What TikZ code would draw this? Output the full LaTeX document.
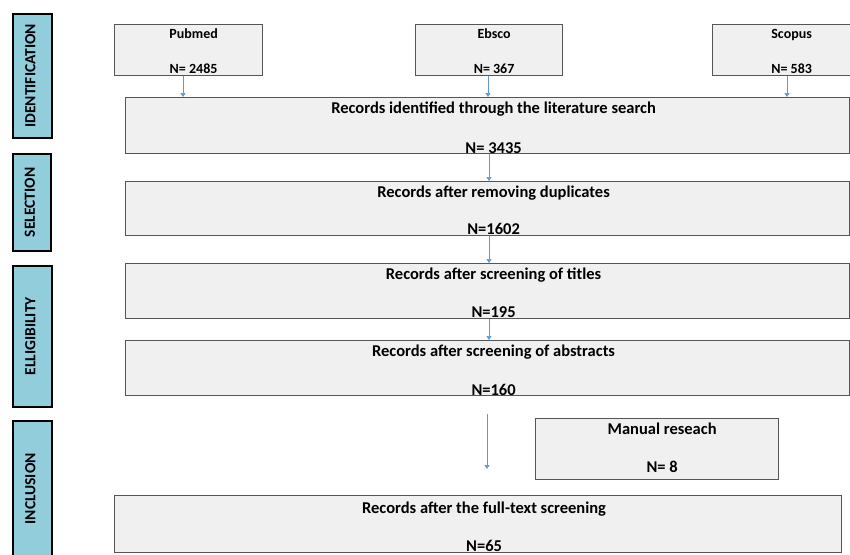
\documentclass[tikz,border=0pt]{standalone}
\usepackage{fontspec}
\setmainfont{Carlito}
\usetikzlibrary{positioning}
\usetikzlibrary{arrows.meta}

\definecolor{boxgray}{HTML}{F0F0F0}
\definecolor{boxline}{HTML}{555555}
\definecolor{phaseblue}{HTML}{92CDDC}
\definecolor{arrowblue}{HTML}{5B9BD5}

\tikzset{
    recbox/.style={draw=boxline, fill=boxgray, line width=1.2pt, anchor=north west, inner sep=0pt},
    phase/.style={draw=black, fill=phaseblue, line width=1.6pt, anchor=north west, inner sep=0pt},
    phasetext/.style={rotate=90, font=\bfseries\fontsize{15.5}{18}\selectfont},
    txt/.style={font=\bfseries\fontsize{16.5}{19}\selectfont, inner sep=0pt, anchor=base},
    srctxt/.style={font=\bfseries\fontsize{14}{17}\selectfont, inner sep=0pt, anchor=base},
    flow/.style={draw=arrowblue, line width=0.6pt, -{Triangle[length=4pt, width=5pt]}}
}

\begin{document}
\begin{tikzpicture}[x=1pt, y=-1pt]
        \useasboundingbox (0,0) rectangle (850,554);

        % phases
        \node[phase, minimum width=39pt, minimum height=124pt] (p_ident) at (12,13) {};
        \node[phasetext] (p_ident_t) at ([xshift=-2pt]p_ident.center) {IDENTIFICATION};
        \node[phase, minimum width=38pt, minimum height=97pt] (p_select) at (12,153) {};
        \node[phasetext] (p_select_t) at ([xshift=-2pt]p_select.center) {SELECTION};
        \node[phase, minimum width=39pt, minimum height=141pt] (p_elig) at (12,265) {};
        \node[phasetext] (p_elig_t) at ([xshift=-2pt]p_elig.center) {ELLIGIBILITY};
        \node[phase, minimum width=39pt, minimum height=140pt] (p_incl) at (12,420) {};
        \node[phasetext] (p_incl_t) at ([xshift=-2pt,yshift=2pt]p_incl.center) {INCLUSION};

        % databases
        \node[recbox, minimum width=148pt, minimum height=51pt] (pubmed) at (114,24) {};
        \node[srctxt] (pubmed_t) at ([xshift=5pt,yshift=-14pt]pubmed.north) {Pubmed};
        \node[srctxt] (pubmed_n) at ([xshift=5pt,yshift=2.5pt]pubmed.south) {N= 2485};
        \node[recbox, minimum width=147pt, minimum height=51pt] (ebsco) at (415,24) {};
        \node[srctxt] (ebsco_t) at ([xshift=5pt,yshift=-14pt]ebsco.north) {Ebsco};
        \node[srctxt] (ebsco_n) at ([xshift=5pt,yshift=2.5pt]ebsco.south) {N= 367};
        \node[recbox, minimum width=148pt, minimum height=51pt] (scopus) at (712,24) {};
        \node[srctxt] (scopus_t) at ([xshift=5pt,yshift=-14pt]scopus.north) {Scopus};
        \node[srctxt] (scopus_n) at ([xshift=5pt,yshift=2.5pt]scopus.south) {N= 583};

        % records
        \node[recbox, minimum width=724pt, minimum height=56pt] (identified) at (125,97) {};
        \node[txt] (identified_t) at ([xshift=6pt,yshift=-16pt]identified.north) {Records identified through the literature search};
        \node[txt] (identified_n) at ([xshift=6pt,yshift=0.5pt]identified.south) {N= 3435};
        \node[recbox, minimum width=724pt, minimum height=54pt] (dedup) at (125,181) {};
        \node[txt] (dedup_t) at ([xshift=6pt,yshift=-16pt]dedup.north) {Records after removing duplicates};
        \node[txt] (dedup_n) at ([xshift=6pt,yshift=2pt]dedup.south) {N=1602};
        \node[recbox, minimum width=724pt, minimum height=55pt] (titles) at (125,263) {};
        \node[txt] (titles_t) at ([xshift=6pt,yshift=-16pt]titles.north) {Records after screening of titles};
        \node[txt] (titles_n) at ([xshift=6pt,yshift=1.5pt]titles.south) {N=195};
        \node[recbox, minimum width=724pt, minimum height=55pt] (abstracts) at (125,340) {};
        \node[txt] (abstracts_t) at ([xshift=6pt,yshift=-16.5pt]abstracts.north) {Records after screening of abstracts};
        \node[txt] (abstracts_n) at ([xshift=6pt,yshift=1pt]abstracts.south) {N=160};
        \node[recbox, minimum width=243pt, minimum height=61pt] (manual) at (535,418) {};
        \node[txt] (manual_t) at ([xshift=5pt,yshift=-16pt]manual.north) {Manual reseach};
        \node[txt] (manual_n) at ([xshift=5pt,yshift=8pt]manual.south) {N= 8};
        \node[recbox, minimum width=727pt, minimum height=57pt] (fulltext) at (114,495) {};
        \node[txt] (fulltext_t) at ([xshift=6pt,yshift=-18pt]fulltext.north) {Records after the full-text screening};
        \node[txt] (fulltext_n) at ([xshift=6pt,yshift=2pt]fulltext.south) {N=65};

        \coordinate (gap_top) at (487,414);
        \coordinate (gap_end) at (487,469);

        \draw[flow] (pubmed.south -| 183,0) -- (identified.north -| 183,0);
        \draw[flow] (ebsco.south -| 488,0) -- (identified.north -| 488,0);
        \draw[flow] (scopus.south -| 787,0) -- (identified.north -| 787,0);
        \draw[flow] (identified.south -| 489,0) -- (dedup.north -| 489,0);
        \draw[flow] (dedup.south -| 489,0) -- (titles.north -| 489,0);
        \draw[flow] (titles.south -| 489,0) -- (abstracts.north -| 489,0);
        \draw[flow] (gap_top) -- (gap_end);
    \end{tikzpicture}
\end{document}
